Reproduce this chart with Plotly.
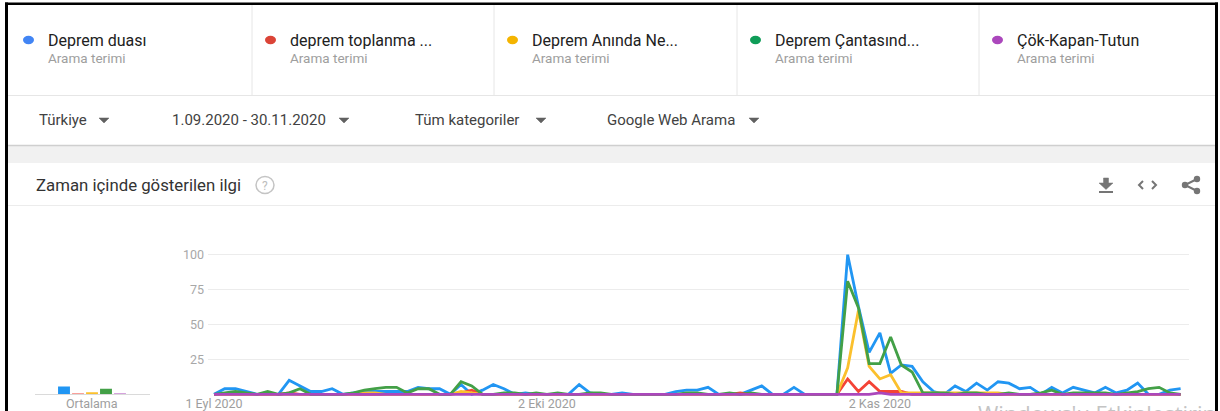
import plotly.graph_objects as go
import pandas as pd
import numpy as np

W, H = 1220, 411
FONT = "Roboto"

# daily values, 1 Sep 2020 - 30 Nov 2020 (91 days)
dates = pd.date_range("2020-09-01", "2020-11-30", freq="D")

terms = ["Deprem duası", "deprem toplanma ...", "Deprem Anında Ne...",
         "Deprem Çantasınd...", "Çök-Kapan-Tutun"]
term_type = "Arama terimi"

deprem_duasi = [0, 4, 4, 2, 0, 0, 0, 10, 6, 2,
                2, 4, 0, 1, 2, 2, 2, 2, 2, 5,
                4, 4, 0, 7, 0, 3, 7, 4, 0, 1,
                0, 0, 0, 0, 7, 1, 0, 0, 1, 0,
                0, 0, 0, 2, 3, 3, 5, 0, 0, 0,
                3, 6, 0, 0, 5, 0, 0, 0, 0, 100,
                63, 30, 44, 15, 21, 20, 9, 2, 0, 6,
                2, 8, 3, 9, 8, 4, 5, 0, 5, 1,
                5, 3, 1, 5, 1, 3, 8, 0, 0, 3,
                4]
toplanma = [0, 0, 0, 0, 0, 0, 0, 1, 0, 0,
            0, 0, 0, 0, 0, 0, 0, 0, 0, 0,
            0, 0, 0, 1, 3, 0, 0, 0, 0, 0,
            0, 0, 0, 0, 0, 0, 0, 0, 0, 0,
            0, 0, 0, 0, 0, 0, 0, 0, 0, 1,
            0, 0, 0, 0, 0, 0, 0, 0, 0, 11,
            2, 9, 2, 2, 2, 0, 0, 0, 0, 0,
            0, 0, 0, 0, 0, 0, 0, 0, 0, 0,
            0, 0, 0, 0, 0, 0, 0, 0, 0, 0,
            0]
aninda = [0, 0, 0, 0, 0, 0, 0, 0, 0, 0,
          0, 0, 0, 0, 1, 1, 0, 0, 0, 0,
          0, 0, 0, 2, 1, 0, 0, 0, 0, 0,
          0, 0, 0, 0, 0, 0, 0, 0, 0, 0,
          0, 0, 0, 0, 0, 0, 0, 0, 0, 0,
          0, 0, 0, 0, 0, 0, 0, 0, 0, 19,
          60, 20, 11, 14, 1, 1, 1, 1, 1, 1,
          1, 1, 1, 1, 0, 0, 0, 0, 0, 0,
          0, 0, 0, 0, 0, 0, 0, 0, 0, 0,
          0]
cantasi = [0, 1, 2, 1, 0, 2, 0, 1, 4, 0,
           0, 0, 0, 1, 3, 4, 5, 5, 1, 4,
           4, 0, 0, 9, 6, 0, 0, 1, 1, 0,
           1, 0, 1, 0, 0, 1, 1, 0, 0, 0,
           0, 0, 0, 0, 1, 1, 0, 0, 1, 0,
           1, 0, 0, 0, 0, 0, 0, 0, 0, 81,
           62, 22, 22, 41, 21, 16, 1, 1, 1, 0,
           1, 1, 0, 0, 1, 0, 0, 1, 3, 0,
           1, 1, 1, 1, 0, 1, 2, 4, 5, 1,
           0]
cok_kapan = [0] * 62 + [1] + [0] * 28

series = [deprem_duasi, toplanma, aninda, cantasi, cok_kapan]
line_colors = ["#2196f3", "#f44336", "#fbc02d", "#43a047", "#ab47bc"]
dot_colors = ["#4285f4", "#db4437", "#f4b400", "#0f9d58", "#ab47bc"]

tick_dates = ["2020-09-01", "2020-10-02", "2020-11-02"]
tick_text = ["1 Eyl 2020", "2 Eki 2020", "2 Kas 2020"]
y_ticks = [25, 50, 75, 100]

filters = ["Türkiye", "1.09.2020 - 30.11.2020", "Tüm kategoriler", "Google Web Arama"]


def fx(x):
    return x / W


def fy(y):
    return 1 - y / H


shapes, annotations = [], []


def rect(x0, y0, x1, y1, fill):
    shapes.append(dict(type="rect", xref="paper", yref="paper", x0=fx(x0), x1=fx(x1),
                       y0=fy(y1), y1=fy(y0), fillcolor=fill, line=dict(width=0), layer="below"))


def seg(x0, y0, x1, y1, color, width=1):
    shapes.append(dict(type="line", xref="paper", yref="paper", x0=fx(x0), x1=fx(x1),
                       y0=fy(y0), y1=fy(y1), line=dict(color=color, width=width)))


def path(pts, color, width=2, fill=None):
    d = "M" + " L".join(f"{fx(x):.5f},{fy(y):.5f}" for x, y in pts)
    if fill:
        d += " Z"
    shapes.append(dict(type="path", xref="paper", yref="paper", path=d,
                       line=dict(color=color, width=width), fillcolor=fill))


def circle(cx, cy, rx, ry, color, fill=None, width=0):
    shapes.append(dict(type="circle", xref="paper", yref="paper", x0=fx(cx - rx), x1=fx(cx + rx),
                       y0=fy(cy + ry), y1=fy(cy - ry), fillcolor=fill,
                       line=dict(color=color, width=width)))


def text(x, y, s, size, color, xanchor="left", yanchor="middle", family=FONT):
    annotations.append(dict(text=s, x=fx(x), y=fy(y), xref="paper", yref="paper",
                            xanchor=xanchor, yanchor=yanchor, showarrow=False,
                            font=dict(family=family, size=size, color=color)))


# page background pieces
rect(7, 146, 1215, 163, "#f1f1f1")
seg(7, 95.5, 1215, 95.5, "#e6e6e6")
seg(7, 145.5, 1215, 145.5, "#cfcfcf", 1.5)
seg(7, 205.5, 1215, 205.5, "#ececec")

# legend header: five search terms
col_x = [22, 264, 506, 749, 991]
for i, cx in enumerate(col_x):
    if i > 0:
        seg(cx - 12, 5, cx - 12, 95, "#e6e6e6")
    circle(cx + 6.5, 40, 5.5, 4.2, dot_colors[i], fill=dot_colors[i])
    text(cx + 24, 40, terms[i], 16, "#212121")
    text(cx + 24, 57.5, term_type, 13.5, "#9e9e9e")

# filter row
filter_x = [37, 170, 413, 605]
arrow_x = [104, 344, 541, 754]
for fxp, ax_, s in zip(filter_x, arrow_x, filters):
    text(fxp, 120, s, 15, "#424242")
    path([(ax_ - 5, 118), (ax_ + 5, 118), (ax_, 123)], "#616161", 0.5, fill="#616161")

# card title and icons
text(34, 185, "Zaman içinde gösterilen ilgi", 16.8, "#333333")
circle(265, 185, 9, 8.5, "#c4c4c4", width=1.5)
text(265, 185.5, "?", 12, "#bdbdbd", xanchor="center")

icon = "#757575"
path([(1103.5, 178), (1108.5, 178), (1108.5, 183), (1113, 183), (1106, 189.5),
      (1099, 183), (1103.5, 183)], icon, 0.5, fill=icon)
rect(1099, 191, 1113, 193, icon)
path([(1143, 181), (1139, 185), (1143, 189)], icon, 2)
path([(1152, 181), (1156, 185), (1152, 189)], icon, 2)
path([(1197, 179), (1185, 185), (1197, 191)], icon, 2)
for cx, cy in [(1197, 179), (1185, 185), (1197, 191)]:
    circle(cx, cy, 3.2, 3.2, icon, fill=icon)

# "Ortalama" baseline
seg(35, 394.5, 150, 394.5, "#dadada")
text(92, 403, "Ortalama", 12.5, "#9e9e9e", xanchor="center")

# screenshot frame
seg(6.5, 2.5, 6.5, H, "#000000", 3)
seg(1216.5, 2.5, 1216.5, H, "#000000", 3)
seg(5, 3.8, 1218, 3.8, "#000000", 2.5)

# washed-out watermark cut by the bottom edge
text(976, 396, "Windows'u Etkinleştirin", 22, "#c4c4c4", yanchor="top", family="Open Sans")

fig = go.Figure()
for name, vals, col in zip(terms, series, line_colors):
    fig.add_trace(go.Scatter(x=dates, y=vals, name=name, mode="lines",
                             line=dict(color=col, width=2.8), xaxis="x", yaxis="y"))

means = [float(np.mean(v)) for v in series]
fig.add_trace(go.Bar(x=list(range(5)), y=means, marker=dict(color=line_colors, line=dict(width=0)),
                     width=0.85, xaxis="x2", yaxis="y2", showlegend=False))

y_dom = [fy(398.5), fy(250.5)]
fig.update_layout(
    width=W, height=H,
    margin=dict(l=0, r=0, t=0, b=0, autoexpand=False),
    paper_bgcolor="white", plot_bgcolor="white",
    showlegend=False,
    font=dict(family=FONT),
    xaxis=dict(domain=[fx(208), fx(1189)], type="date", automargin=False,
               range=["2020-08-31 10:35", "2020-11-30 18:45"],
               tickvals=tick_dates, ticktext=tick_text, showgrid=False, zeroline=False,
               showline=False, ticks="", tickfont=dict(size=12.5, color="#9e9e9e"),
               anchor="free", position=fy(394)),
    yaxis=dict(domain=y_dom, range=[-3, 103], tickvals=y_ticks, showgrid=True, automargin=False,
               gridcolor="#ececec", gridwidth=1, zeroline=False, showline=False, ticks="",
               tickfont=dict(size=12.5, color="#a8a8a8"), ticklabelstandoff=3),
    xaxis2=dict(domain=[fx(57), fx(127)], range=[-0.5, 4.5], visible=False, anchor="y2",
                automargin=False),
    yaxis2=dict(domain=y_dom, range=[-3, 103], visible=False, anchor="x2", automargin=False),
    shapes=shapes,
    annotations=annotations,
)

# the page's default body margin would push the figure 8px right and down
fig.write_html("out.html", config={"displayModeBar": False},
               post_script="document.body.style.margin='0';document.body.style.overflow='hidden';")
